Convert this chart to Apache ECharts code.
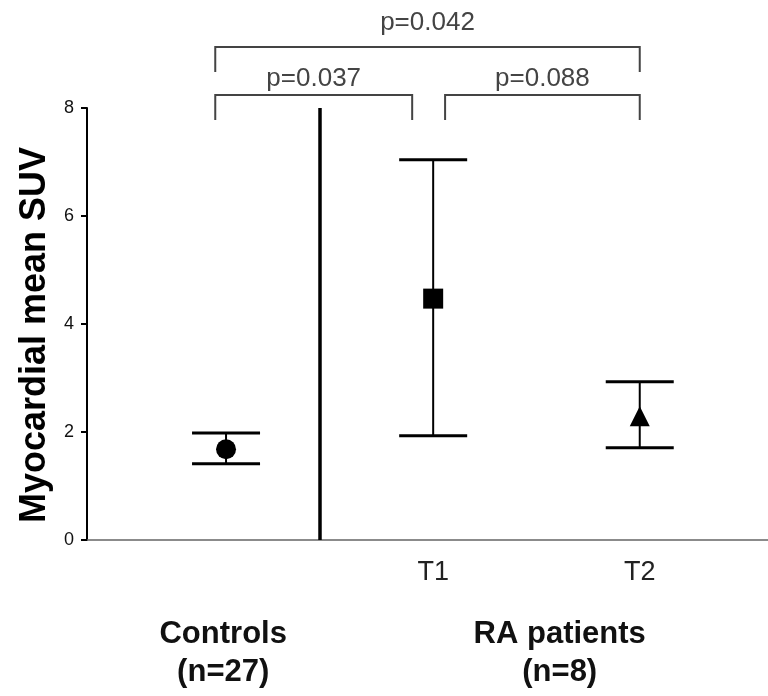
<!DOCTYPE html>
<html>
<head>
<meta charset="utf-8">
<script src="https://cdn.jsdelivr.net/npm/echarts@6/dist/echarts.min.js"></script>
<style>
  html, body { margin: 0; padding: 0; background: #fff; }
  #main { width: 768px; height: 696px; }
</style>
</head>
<body>
<div id="main"></div>
<script>
// data (mean with error bar ends)
var groups = ['Controls', 'T1', 'T2'];
var means = [1.68, 4.47, 2.29];
var lowerEnds = [1.41, 1.93, 1.71];
var upperEnds = [1.98, 7.04, 2.93];
var markers = ['circle', 'rect', 'triangle'];
var tickLabels = ['T1', 'T2'];
var groupLabels = ['Controls\n(n=27)', 'RA patients\n(n=8)'];
var pLabels = ['p=0.037', 'p=0.088', 'p=0.042'];

// layout on the x value axis (0..12)
var xSlot = [2.45, 6.10, 9.74];
var dividerX = 4.11;
var groupX = [2.40, 8.33];
var bracketX = [[2.26, 5.73], [6.31, 9.74], [2.26, 9.74]];
var bracketY = [8.24, 8.24, 9.13];
var pTextY = [8.37, 8.37, 9.41];

var myChart = echarts.init(document.getElementById('main'));

var pointData = means.map(function (m, i) {
    return { value: [xSlot[i], m], symbol: markers[i], name: groups[i] };
});
var errData = means.map(function (m, i) {
    return [xSlot[i], lowerEnds[i], upperEnds[i]];
});
var bracketData = pLabels.map(function (p, i) {
    return [bracketX[i][0], bracketX[i][1], bracketY[i], pTextY[i], i];
});
var groupData = groupLabels.map(function (g, i) {
    return [groupX[i], 0, i];
});

var option = {
    animation: false,
    grid: { left: 87, right: 0, top: 108, bottom: 156 },
    xAxis: {
        type: 'value',
        min: 0,
        max: 12,
        splitLine: { show: false },
        axisLine: { show: true, lineStyle: { color: '#666', width: 1.5 } },
        axisTick: { show: false },
        axisLabel: {
            customValues: [xSlot[1], xSlot[2]],
            formatter: function (v) {
                for (var i = 1; i < xSlot.length; i++) {
                    if (Math.abs(xSlot[i] - v) < 1e-6) return tickLabels[i - 1];
                }
                return '';
            },
            margin: 19,
            fontSize: 27,
            fontFamily: '"Liberation Sans Narrow", "Liberation Sans", Arial',
            color: '#222'
        }
    },
    yAxis: {
        type: 'value',
        min: 0,
        max: 8,
        interval: 2,
        name: 'Myocardial mean SUV',
        nameLocation: 'middle',
        nameGap: 32,
        nameTextStyle: {
            fontSize: 36,
            fontWeight: 'bold',
            fontFamily: '"Liberation Sans", Arial',
            color: '#000',
            padding: [0, 22, 0, 0]
        },
        splitLine: { show: false },
        axisLine: { show: true, lineStyle: { color: '#000', width: 2 } },
        axisTick: { show: true, length: 6, lineStyle: { color: '#000', width: 2 } },
        axisLabel: {
            margin: 13,
            fontSize: 18,
            fontFamily: '"Liberation Sans", Arial',
            color: '#111'
        }
    },
    series: [
        {
            // error bars with caps
            type: 'custom',
            name: 'range',
            data: errData,
            renderItem: function (params, api) {
                var x = api.value(0);
                var lo = api.coord([x, api.value(1)]);
                var hi = api.coord([x, api.value(2)]);
                var hw = 34;
                return {
                    type: 'group',
                    children: [
                        { type: 'line', shape: { x1: lo[0], y1: lo[1], x2: hi[0], y2: hi[1] }, style: { stroke: '#000', lineWidth: 2 } },
                        { type: 'line', shape: { x1: lo[0] - hw, y1: lo[1], x2: lo[0] + hw, y2: lo[1] }, style: { stroke: '#000', lineWidth: 3 } },
                        { type: 'line', shape: { x1: hi[0] - hw, y1: hi[1], x2: hi[0] + hw, y2: hi[1] }, style: { stroke: '#000', lineWidth: 3 } }
                    ]
                };
            },
            markLine: {
                silent: true,
                symbol: 'none',
                label: { show: false },
                lineStyle: { color: '#000', width: 3.5, type: 'solid' },
                data: [{ xAxis: dividerX }]
            },
            z: 2
        },
        {
            type: 'scatter',
            name: 'mean',
            data: pointData,
            symbolSize: 20,
            itemStyle: { color: '#000', opacity: 1 },
            z: 3
        },
        {
            // significance brackets above the plot
            type: 'custom',
            name: 'brackets',
            clip: false,
            data: bracketData,
            renderItem: function (params, api) {
                var a = api.coord([api.value(0), api.value(2)]);
                var b = api.coord([api.value(1), api.value(2)]);
                var t = api.coord([(api.value(0) + api.value(1)) / 2, api.value(3)]);
                var drop = 25;
                return {
                    type: 'group',
                    children: [
                        {
                            type: 'polyline',
                            shape: { points: [[a[0], a[1] + drop], [a[0], a[1]], [b[0], b[1]], [b[0], b[1] + drop]] },
                            style: { stroke: '#444', lineWidth: 2, fill: null }
                        },
                        {
                            type: 'text',
                            x: t[0],
                            y: t[1] - 9,
                            style: {
                                text: pLabels[api.value(4)],
                                fontSize: 26,
                                fontFamily: '"Liberation Sans", Arial',
                                fill: '#444',
                                align: 'center',
                                verticalAlign: 'middle'
                            }
                        }
                    ]
                };
            }
        },
        {
            // group captions under the axis
            type: 'custom',
            name: 'groups',
            clip: false,
            data: groupData,
            renderItem: function (params, api) {
                var p = api.coord([api.value(0), api.value(1)]);
                return {
                    type: 'text',
                    x: p[0],
                    y: p[1] + 75,
                    style: {
                        text: groupLabels[api.value(2)],
                        fontSize: 31,
                        fontWeight: 'bold',
                        lineHeight: 38,
                        fontFamily: '"Liberation Sans", Arial',
                        fill: '#111',
                        align: 'center',
                        verticalAlign: 'top'
                    }
                };
            }
        }
    ]
};

myChart.setOption(option);
</script>
</body>
</html>
